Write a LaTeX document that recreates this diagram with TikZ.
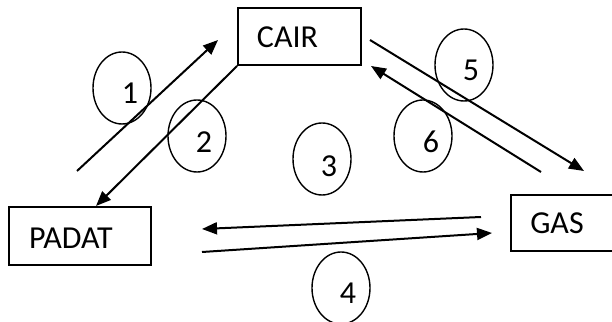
\documentclass[tikz,border=0pt]{standalone}
\usepackage{fontspec}
\setmainfont{Carlito}
\usetikzlibrary{arrows.meta,shapes.geometric}
\tikzset{
  every picture/.style={x=1pt,y=1pt},
  box/.style={draw,line width=1.8pt,rectangle,inner sep=0pt},
  txt/.style={font=\fontsize{32}{38}\selectfont,inner sep=0pt},
  circ/.style={draw,line width=1.4pt,ellipse,minimum width=58pt,minimum height=72pt,inner sep=0pt},
  conn/.style={line width=2pt,-{Triangle[length=15pt,width=12pt]}},
  plain/.style={line width=2pt}
}
\begin{document}
\begin{tikzpicture}
\clip (0,0) rectangle (612,321);
\fill[white] (0,0) rectangle (612,321);
% boxes
\node[box,minimum width=123pt,minimum height=57pt,label={[txt,xshift=-12pt,yshift=-1pt]center:CAIR}] (cair) at (299.5,284.5) {};
\node[box,minimum width=142pt,minimum height=58pt,label={[txt,xshift=-9pt,yshift=-2pt]center:PADAT}] (padat) at (80,85) {};
\node[box,minimum width=114pt,minimum height=56pt,label={[txt,xshift=-11pt,yshift=0pt]center:GAS}] (gas) at (568,98) {};
% ellipses
\node[circ,label={[txt,xshift=8pt,yshift=-5pt]center:1}] (c1) at (122,233) {};
\node[circ,label={[txt,xshift=7pt,yshift=-6pt]center:2}] (c2) at (197,185) {};
\node[circ,label={[txt,xshift=7pt,yshift=-7pt]center:3}] (c3) at (322,162) {};
\node[circ,label={[txt,xshift=7pt,yshift=-5pt]center:4}] (c4) at (341,33) {};
\node[circ,label={[txt,xshift=7pt,yshift=-5pt]center:5}] (c5) at (464,256) {};
\node[circ,label={[txt,xshift=8pt,yshift=-6pt]center:6}] (c6) at (423,185) {};
% arrow end points
\coordinate (a1s) at (77,150);
\coordinate (a1e) at (218,281);
\coordinate (a2e) at (96,115);
\coordinate (a5s) at (370,281);
\coordinate (a5e) at (584,150);
\coordinate (a6s) at (541,149);
\coordinate (a6e) at (371,255);
\coordinate (a3s) at (481,104);
\coordinate (a3e) at (202,92);
\coordinate (a4s) at (202,69);
\coordinate (a4e) at (492,88);
% connectors
\draw[conn] (a1s) -- (a1e);
\draw[conn] (cair.south west) -- (a2e);
\draw[conn] (a5s) -- (a5e);
\draw[conn] (a6s) -- (a6e);
\draw[conn] (a3s) -- (a3e);
\draw[conn] (a4s) -- (a4e);
\end{tikzpicture}
\end{document}
